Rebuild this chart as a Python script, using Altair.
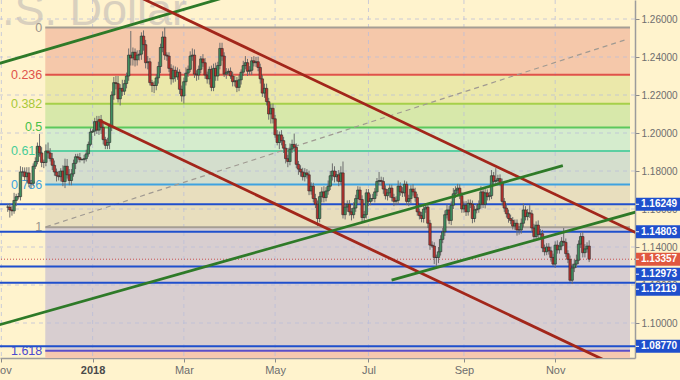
import altair as alt
import pandas as pd

# ---------------- data (daily EUR/USD candles, index = trading day from 6 Nov 2017) ----------------
first_open = 1.1610
closes = [
    1.1610, 1.1595, 1.1590, 1.1645, 1.1665,
    1.1665, 1.1795, 1.1795, 1.1770, 1.1790,
    1.1735, 1.1735, 1.1825, 1.1850, 1.1930,
    1.1895, 1.1845, 1.1845, 1.1905, 1.1895,
    1.1865, 1.1830, 1.1795, 1.1775, 1.1770,
    1.1800, 1.1745, 1.1825, 1.1780, 1.1750,
    1.1785, 1.1840, 1.1875, 1.1870, 1.1860,
    1.1860, 1.1865, 1.1890, 1.1940, 1.2005,
    1.2010, 1.2060, 1.2015, 1.2070, 1.2030,
    1.1965, 1.1935, 1.1950, 1.2035, 1.2200,
    1.2265, 1.2260, 1.2180, 1.2235, 1.2220,
    1.2260, 1.2300, 1.2410, 1.2395, 1.2425,
    1.2385, 1.2410, 1.2415, 1.2510, 1.2465,
    1.2370, 1.2375, 1.2265, 1.2250, 1.2250,
    1.2290, 1.2350, 1.2450, 1.2505, 1.2410,
    1.2405, 1.2340, 1.2285, 1.2330, 1.2295,
    1.2320, 1.2230, 1.2195, 1.2270, 1.2315,
    1.2335, 1.2405, 1.2410, 1.2310, 1.2305,
    1.2335, 1.2390, 1.2370, 1.2305, 1.2285,
    1.2335, 1.2240, 1.2340, 1.2300, 1.2355,
    1.2445, 1.2405, 1.2310, 1.2320, 1.2325,
    1.2300, 1.2270, 1.2275, 1.2240, 1.2280,
    1.2320, 1.2355, 1.2370, 1.2325, 1.2330,
    1.2380, 1.2370, 1.2375, 1.2345, 1.2285,
    1.2210, 1.2235, 1.2165, 1.2100, 1.2130,
    1.2075, 1.1990, 1.1950, 1.1990, 1.1960,
    1.1920, 1.1865, 1.1850, 1.1915, 1.1940,
    1.1925, 1.1835, 1.1810, 1.1795, 1.1770,
    1.1790, 1.1780, 1.1695, 1.1720, 1.1655,
    1.1625, 1.1550, 1.1665, 1.1690, 1.1660,
    1.1695, 1.1720, 1.1775, 1.1800, 1.1770,
    1.1780, 1.1745, 1.1790, 1.1570, 1.1610,
    1.1625, 1.1585, 1.1570, 1.1605, 1.1655,
    1.1700, 1.1650, 1.1555, 1.1570, 1.1685,
    1.1640, 1.1655, 1.1655, 1.1690, 1.1745,
    1.1750, 1.1745, 1.1705, 1.1670, 1.1685,
    1.1710, 1.1660, 1.1640, 1.1645, 1.1720,
    1.1690, 1.1685, 1.1730, 1.1640, 1.1655,
    1.1705, 1.1690, 1.1660, 1.1585, 1.1565,
    1.1550, 1.1600, 1.1610, 1.1525, 1.1410,
    1.1405, 1.1345, 1.1345, 1.1375, 1.1440,
    1.1480, 1.1570, 1.1595, 1.1540, 1.1620,
    1.1680, 1.1700, 1.1710, 1.1670, 1.1600,
    1.1620, 1.1585, 1.1630, 1.1625, 1.1550,
    1.1595, 1.1600, 1.1625, 1.1690, 1.1625,
    1.1685, 1.1665, 1.1670, 1.1775, 1.1745,
    1.1750, 1.1760, 1.1740, 1.1640, 1.1605,
    1.1575, 1.1550, 1.1540, 1.1510, 1.1525,
    1.1490, 1.1490, 1.1525, 1.1595, 1.1560,
    1.1580, 1.1575, 1.1500, 1.1455, 1.1515,
    1.1465, 1.1470, 1.1395, 1.1375, 1.1400,
    1.1380, 1.1345, 1.1310, 1.1410, 1.1385,
    1.1405, 1.1430, 1.1425, 1.1365, 1.1335,
    1.1225, 1.1290, 1.1310, 1.1330, 1.1415,
    1.1455, 1.1370, 1.1390, 1.1405, 1.13357,
]
# upper / lower shadows in pips
up_wick = [
    15, 20, 22, 40, 15,   20, 30, 25, 24, 30,   30, 18, 15, 22, 20,   65, 30, 15, 35, 45,
    25, 30, 25, 18, 25,   15, 30, 40, 38, 30,   25, 20, 15, 16, 25,    5, 20, 22, 15, 20,
    10, 20, 30, 20, 25,   20, 15, 25, 15, 19,   30, 35, 40, 22, 45,   20, 18, 35, 127, 25,
    20, 25, 22, 20, 30,   25, 30, 20, 15, 22,   20, 25, 20, 30, 50,   15, 20, 22, 25, 20,
    25, 15, 20, 22, 30,   20, 25, 35, 30, 20,   20, 15, 25, 25, 18,   15, 20, 25, 30, 20,
    30, 30, 20, 22, 15,   20, 22, 25, 20, 25,   15, 25, 35, 20, 22,   20, 25, 25, 26, 20,
    20, 25, 25, 20, 22,   25, 20, 25, 18, 25,   20, 22, 20, 30, 25,   57, 20, 18, 20, 22,
    25, 20, 22, 20, 18,   25, 20, 25, 25, 30,   20, 30, 25, 40, 25,   20, 25, 35, 60, 20,
    20, 22, 20, 30, 20,   20, 18, 22, 20, 20,   20, 22, 25, 20, 18,   45, 20, 22, 20, 20,
    20, 18, 20, 22, 30,   20, 25, 20, 15, 20,   20, 25, 22, 20, 18,   20, 22, 20, 20, 18,
    20, 20, 15, 25, 22,   20, 22, 30, 20, 20,   30, 20, 22, 20, 18,   20, 22, 20, 20, 20,
    20, 25, 20, 30, 22,   20, 18, 20, 30, 20,   65, 20, 22, 20, 18,   20, 22, 20, 18, 20,
    20, 20, 25, 35, 20,   20, 40, 20, 22, 20,   25, 25, 20, 18, 20,   20, 22, 20, 20, 25,
    20, 22, 70, 20, 18,   20, 22, 25, 30, 20,   20, 25, 25, 20, 30,
]
dn_wick = [
    25, 40, 25, 15, 30,   15, 20, 25, 20, 30,   20, 25, 15, 15, 15,   20, 25, 30, 20, 30,
    15, 25, 20, 30, 20,   25, 25, 35, 20, 25,   25, 15, 30, 25, 15,    5, 20, 15, 15, 10,
     5, 25, 20, 25, 35,   25, 20, 20, 35, 25,   25, 30, 20, 35, 25,   20, 25, 25, 40, 40,
    35, 30, 28, 30, 32,   30, 35, 15, 35, 40,   25, 30, 35, 25, 25,   25, 20, 30, 20, 25,
    15, 25, 30, 40, 20,   20, 15, 25, 20, 30,   25, 20, 22, 20, 25,   30, 20, 20, 25, 25,
    20, 25, 15, 25, 15,   15, 25, 25, 25, 20,   25, 20, 20, 25, 20,   25, 20, 22, 20, 25,
    20, 25, 20, 30, 50,   25, 15, 15, 35, 25,   25, 25, 30, 20, 20,   20, 20, 30, 25, 20,
    25, 20, 22, 20, 20,   20, 40, 20, 30, 25,   20, 20, 20, 25, 30,   25, 25, 15, 20, 25,
    25, 20, 30, 20, 20,   25, 20, 28, 25, 20,   25, 20, 15, 20, 22,   20, 22, 25, 20, 25,
    25, 20, 25, 20, 22,   20, 22, 20, 20, 25,   25, 20, 22, 20, 20,   20, 22, 20, 25, 25,
    10, 35, 44, 30, 20,   20, 22, 20, 20, 25,   20, 22, 20, 18, 20,   20, 22, 20, 20, 25,
    20, 18, 20, 22, 20,   22, 20, 20, 18, 20,   20, 25, 20, 22, 20,   20, 22, 20, 18, 20,
    30, 25, 20, 22, 20,   20, 22, 20, 20, 22,   20, 20, 22, 20, 18,   20, 22, 10, 20, 20,
    20, 22, 20, 18, 20,    9, 20, 22, 20, 20,   20, 25, 25, 20, 15,
]

# x-axis months (trading-day index of the first day of month)
month_idx = [-3, 40, 83, 126, 170, 215, 258]
month_lab = ["Nov", "2018", "Mar", "May", "Jul", "Sep", "Nov"]
price_ticks = [1.08, 1.10, 1.12, 1.14, 1.16, 1.18, 1.20, 1.22, 1.24, 1.26]

# Fibonacci retracement
fib_high = 1.2555
fib_low = 1.1504
fib_start_idx = 17.7
fib_ratios = [0, 0.236, 0.382, 0.5, 0.618, 0.786, 1, 1.618, 2.0]
fib_labels = ["0", "0.236", "0.382", "0.5", "0.618", "0.786", "1", "1.618"]
fib_line_colors = ["#A59E94", "#E0524A", "#A6D04A", "#5CC85C", "#5CCFA2", "#3EA2E0", "#A59E94", "#5A4FC8"]
fib_text_colors = ["#9A948C", "#E0524A", "#A8C83A", "#48C048", "#48CC98", "#3EA2E0", "#9A948C", "#4A4AD0"]
fib_band_colors = ["#F5C8AA", "#EBE8AA", "#D7E8AA", "#D5ECCD", "#D4DECD", "#E8DEBE", "#D8CED0", "#F5C8AF"]

# support / resistance levels and last price
sr_levels = [1.16249, 1.14803, 1.12973, 1.12119, 1.08770]
last_price = 1.13357

# trend lines: (index, price) end points
trend_lines = {
    "green_top":   [(-5, 1.2363), (110, 1.2739)],
    "red_top":     [(55, 1.2753), (300, 1.1454)],
    "red_bottom":  [(42.8, 1.2068), (300, 1.0705)],
    "green_long":  [(-5, 1.0987), (261.6, 1.1828)],
    "green_short": [(180.9, 1.1226), (300, 1.1597)],
}
trend_colors = {"green_top": "#2E7A28", "red_top": "#A2261A", "red_bottom": "#A2261A",
                "green_long": "#2E7A28", "green_short": "#2E7A28"}
dashed_line = [(18.0, 1.1506), (292.3, 1.2495)]

# ---------------- tables ----------------
W, H = 635, 358
X_DOMAIN = [-1.28, 293.25]
Y_DOMAIN = [1.08158, 1.27]
xs = alt.Scale(domain=X_DOMAIN, nice=False, zero=False)
ys = alt.Scale(domain=Y_DOMAIN, nice=False, zero=False)

opens = [first_open] + closes[:-1]
rows = []
for i, (o, c, u, d) in enumerate(zip(opens, closes, up_wick, dn_wick)):
    rows.append(dict(idx=i, open=o, close=c,
                     top=max(o, c), bot=min(o, c),
                     high=max(o, c) + u / 10000.0, low=min(o, c) - d / 10000.0))
cdf = pd.DataFrame(rows)

fib_price = [fib_high - r * (fib_high - fib_low) for r in fib_ratios]
bands = pd.DataFrame({"x": fib_start_idx, "x2": X_DOMAIN[1],
                      "y": fib_price[:-1], "y2": fib_price[1:], "col": fib_band_colors})
fib_lines = pd.DataFrame({"x": fib_start_idx, "x2": X_DOMAIN[1], "y": fib_price[:-1],
                          "col": fib_line_colors, "tcol": fib_text_colors, "lab": fib_labels})

trows = []
for name, pts in trend_lines.items():
    for k, (xi, p) in enumerate(pts):
        trows.append(dict(name=name, idx=xi, p=p, k=k, col=trend_colors[name]))
tdf = pd.DataFrame(trows)
ddf = pd.DataFrame([dict(idx=a, p=b, k=k) for k, (a, b) in enumerate(dashed_line)])

srdf = pd.DataFrame({"p": sr_levels})
lastdf = pd.DataFrame({"p": [last_price]})

# right-hand price tags: keep them from overlapping (minimum spacing in pixels)
tags = [(v, "#1F4FCC") for v in sr_levels] + [(last_price, "#E0583F")]
tags.sort(key=lambda t: -t[0])
px_per_unit = H / (Y_DOMAIN[1] - Y_DOMAIN[0])
placed = []
prev = None
for v, col in tags:
    ypx = (Y_DOMAIN[1] - v) * px_per_unit
    if prev is not None and ypx < prev + 15:
        ypx = prev + 15
    prev = ypx
    placed.append(dict(p=Y_DOMAIN[1] - ypx / px_per_unit, lab=f"{v:.5f}", col=col))
boxdf = pd.DataFrame(placed)

FONT = "Liberation Sans"

label_map = ",".join(f"'{m}':'{l}'" for m, l in zip(month_idx, month_lab))
axis_x = alt.Axis(
    values=month_idx,
    labelExpr="({" + label_map + "})[datum.value]",
    grid=False, domain=True, domainColor="#9C9C9C", domainWidth=1.5,
    ticks=True, tickSize=4, tickColor="#8A8A8A", labelFlush=False, labelOverlap=False,
    labelFont=FONT, labelFontSize=11, labelPadding=2,
    labelColor=alt.condition("datum.value == 40", alt.value("#4A4A4A"), alt.value("#6E6E6E")),
    labelFontWeight=alt.condition("datum.value == 40", alt.value("bold"), alt.value("normal")),
    title=None)
axis_y = alt.Axis(
    orient="right", values=price_ticks, format=".5f", grid=False,
    domain=True, domainColor="#9C9C9C", domainWidth=1.5,
    ticks=True, tickSize=4, tickColor="#8A8A8A", labelOverlap=False, labelFlush=False,
    labelFont=FONT, labelFontSize=10, labelColor="#6E6E6E", labelPadding=2, title=None)


def X(field):
    return alt.X(field, type="quantitative", scale=xs, axis=axis_x)


def Y(field):
    return alt.Y(field, type="quantitative", scale=ys, axis=axis_y)


# ---------------- layers ----------------
band_layer = alt.Chart(bands).mark_rect(clip=True).encode(
    x=X("x"), x2="x2:Q", y=Y("y"), y2="y2:Q",
    color=alt.Color("col:N", scale=None))

watermark = alt.Chart(pd.DataFrame({"t": ["U.S. Dollar"]})).mark_text(
    align="right", baseline="alphabetic", font=FONT, fontSize=45, color="#D9D0BE").encode(
    x=alt.value(187), y=alt.value(25), text="t:N")

hgrid = alt.Chart(pd.DataFrame({"p": price_ticks})).mark_rule(
    strokeDash=[4, 4], color="#B9BED8", strokeWidth=1, opacity=0.75, clip=True).encode(
    y=Y("p"))
vgrid = alt.Chart(pd.DataFrame({"m": month_idx})).mark_rule(
    strokeDash=[4, 4], color="#B9BED8", strokeWidth=1, opacity=0.75, clip=True).encode(
    x=X("m"))

fib_rule = alt.Chart(fib_lines).mark_rule(strokeWidth=2).encode(
    x=X("x"), x2="x2:Q", y=Y("y"),
    color=alt.Color("col:N", scale=None))
fib_text = alt.Chart(fib_lines).mark_text(
    align="right", baseline="middle", dx=-3, font=FONT, fontSize=12.5).encode(
    x=X("x"), y=Y("y"), text="lab:N", color=alt.Color("tcol:N", scale=None))

dashed = alt.Chart(ddf).mark_line(strokeDash=[5, 4], color="#A09A92", strokeWidth=1.2).encode(
    x=X("idx"), y=Y("p"), order="k:Q")

sr_rule = alt.Chart(srdf).mark_rule(color="#1F4FCC", strokeWidth=2).encode(y=Y("p"))
last_rule = alt.Chart(lastdf).mark_rule(color="#C85050", strokeWidth=1, strokeDash=[1, 2]).encode(y=Y("p"))

wicks = alt.Chart(cdf).mark_rule(color="#6E6E6E", strokeWidth=1).encode(
    x=X("idx"), y=Y("low"), y2="high:Q")
bodies = alt.Chart(cdf).mark_bar(size=2.4, stroke="#2E2A2A", strokeWidth=0.6).encode(
    x=X("idx"), y=Y("bot"), y2="top:Q",
    color=alt.condition("datum.close >= datum.open", alt.value("#3F8F60"), alt.value("#B8322E")))

trend = alt.Chart(tdf).mark_line(strokeWidth=2.8, clip=True).encode(
    x=X("idx"), y=Y("p"),
    detail="name:N", order="k:Q", color=alt.Color("col:N", scale=None))

boxes = alt.Chart(boxdf).mark_rect(yOffset=-6.5, y2Offset=6.5).encode(
    x=alt.value(636), x2=alt.value(680),
    y=Y("p"), y2="p:Q",
    color=alt.Color("col:N", scale=None))
box_tick = alt.Chart(boxdf).mark_rule(color="white", strokeWidth=1).encode(
    x=alt.value(636), x2=alt.value(639), y=Y("p"))
box_text = alt.Chart(boxdf).mark_text(
    align="left", baseline="middle", font=FONT, fontSize=10, fontWeight="bold", color="white").encode(
    x=alt.value(641), y=Y("p"), text="lab:N")

chart = alt.layer(
    band_layer, watermark, hgrid, vgrid, fib_rule, fib_text, dashed,
    sr_rule, last_rule, wicks, bodies, trend, boxes, box_tick, box_text
).properties(
    width=W, height=H,
    padding={"left": 0, "top": 0, "right": 45, "bottom": 22},
    autosize=alt.AutoSizeParams(type="none"),
    background="#FFF3CD",
).configure_view(stroke=None, fill="#FFF3CD")

chart.save("out.html", embed_options={"renderer": "svg", "actions": False})
